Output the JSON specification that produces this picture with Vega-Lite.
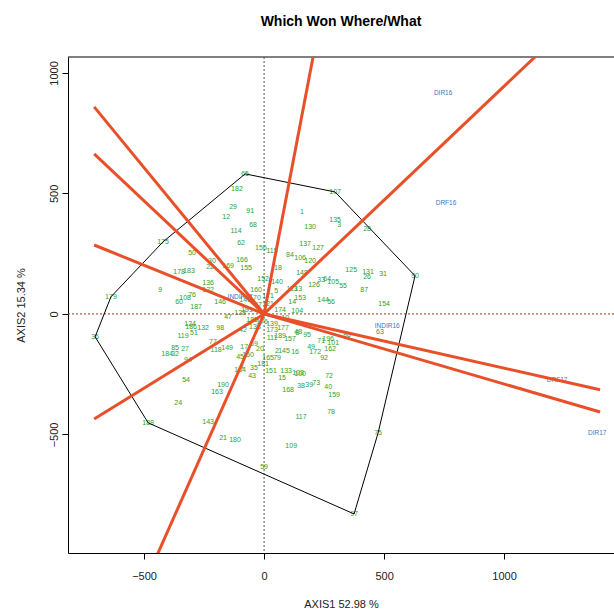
{
  "$schema": "https://vega.github.io/schema/vega-lite/v6.json",
  "width": 546,
  "height": 496,
  "autosize": {"type": "none"},
  "padding": {"left": 68, "top": 57, "right": 0, "bottom": 62},
  "title": {"text": "Which Won Where/What", "font": "Liberation Sans", "fontSize": 14, "fontWeight": "bold", "color": "#000", "anchor": "middle", "offset": 28},
  "config": {
    "view": {"stroke": null},
    "axis": {"labelFont": "Liberation Sans", "titleFont": "Liberation Sans", "labelFontSize": 11, "titleFontSize": 11, "titleFontWeight": "normal", "labelColor": "#222", "titleColor": "#222", "tickColor": "#000", "domainColor": "#000", "tickSize": 6, "grid": false}
  },
  "datasets": {
    "geno": [
      {"g": "65", "x": -79, "y": 581}, {"g": "107", "x": 296, "y": 506}, {"g": "90", "x": 629, "y": 158}, {"g": "75", "x": 475, "y": -494},
      {"g": "97", "x": 375, "y": -830}, {"g": "188", "x": -483, "y": -452}, {"g": "36", "x": -704, "y": -95}, {"g": "179", "x": -638, "y": 71},
      {"g": "175", "x": -421, "y": 299}, {"g": "59", "x": 0, "y": -635},
      {"g": "50", "x": -300, "y": 253}, {"g": "178", "x": -354, "y": 174}, {"g": "183", "x": -313, "y": 178}, {"g": "9", "x": -433, "y": 100},
      {"g": "60", "x": -354, "y": 50}, {"g": "108", "x": -329, "y": 66}, {"g": "76", "x": -300, "y": 79}, {"g": "187", "x": -283, "y": 29},
      {"g": "182", "x": -113, "y": 519}, {"g": "29", "x": -129, "y": 444}, {"g": "91", "x": -58, "y": 427}, {"g": "12", "x": -158, "y": 402},
      {"g": "68", "x": -46, "y": 369}, {"g": "114", "x": -117, "y": 344}, {"g": "62", "x": -96, "y": 295}, {"g": "156", "x": -13, "y": 274},
      {"g": "115", "x": 33, "y": 261}, {"g": "1", "x": 158, "y": 423}, {"g": "30", "x": -217, "y": 220}, {"g": "22", "x": -225, "y": 195},
      {"g": "169", "x": -150, "y": 199}, {"g": "166", "x": -92, "y": 224}, {"g": "155", "x": -75, "y": 191}, {"g": "18", "x": 58, "y": 191},
      {"g": "84", "x": 108, "y": 245}, {"g": "106", "x": 150, "y": 232}, {"g": "136", "x": -233, "y": 129}, {"g": "122", "x": -233, "y": 100},
      {"g": "152", "x": -4, "y": 145}, {"g": "140", "x": 54, "y": 133}, {"g": "5", "x": 50, "y": 95}, {"g": "113", "x": 117, "y": 104},
      {"g": "153", "x": 150, "y": 66}, {"g": "14", "x": 117, "y": 50}, {"g": "146", "x": -183, "y": 50}, {"g": "104", "x": 138, "y": 12},
      {"g": "130", "x": 192, "y": 361}, {"g": "135", "x": 296, "y": 390}, {"g": "3", "x": 313, "y": 369}, {"g": "28", "x": 429, "y": 353},
      {"g": "137", "x": 171, "y": 290}, {"g": "127", "x": 225, "y": 274}, {"g": "120", "x": 192, "y": 220}, {"g": "125", "x": 363, "y": 183},
      {"g": "131", "x": 433, "y": 174}, {"g": "26", "x": 429, "y": 154}, {"g": "31", "x": 496, "y": 166}, {"g": "148", "x": 158, "y": 170},
      {"g": "126", "x": 208, "y": 120}, {"g": "33", "x": 238, "y": 141}, {"g": "64", "x": 263, "y": 145}, {"g": "105", "x": 288, "y": 133},
      {"g": "55", "x": 329, "y": 116}, {"g": "87", "x": 417, "y": 100}, {"g": "144", "x": 246, "y": 58}, {"g": "56", "x": 279, "y": 50},
      {"g": "154", "x": 500, "y": 41}, {"g": "13", "x": 142, "y": 104}, {"g": "124", "x": -308, "y": -41}, {"g": "186", "x": -304, "y": -54},
      {"g": "119", "x": -338, "y": -91}, {"g": "51", "x": -292, "y": -79}, {"g": "85", "x": -371, "y": -141}, {"g": "27", "x": -329, "y": -145},
      {"g": "184", "x": -404, "y": -166}, {"g": "32", "x": -371, "y": -166}, {"g": "94", "x": -317, "y": -191}, {"g": "54", "x": -325, "y": -274},
      {"g": "24", "x": -358, "y": -369}, {"g": "47", "x": -150, "y": -12}, {"g": "132", "x": -254, "y": -58}, {"g": "98", "x": -183, "y": -58},
      {"g": "42", "x": -88, "y": -66}, {"g": "138", "x": -38, "y": -54}, {"g": "139", "x": 33, "y": -41}, {"g": "173", "x": 33, "y": -66},
      {"g": "177", "x": 79, "y": -58}, {"g": "48", "x": 142, "y": -75}, {"g": "111", "x": 33, "y": -100}, {"g": "189", "x": 67, "y": -91},
      {"g": "157", "x": 108, "y": -104}, {"g": "77", "x": -213, "y": -116}, {"g": "118", "x": -200, "y": -149}, {"g": "149", "x": -154, "y": -141},
      {"g": "17", "x": -83, "y": -137}, {"g": "69", "x": -42, "y": -124}, {"g": "20", "x": -17, "y": -145}, {"g": "2", "x": 54, "y": -154},
      {"g": "145", "x": 83, "y": -154}, {"g": "16", "x": 129, "y": -158}, {"g": "45", "x": -100, "y": -178}, {"g": "150", "x": -67, "y": -170},
      {"g": "165", "x": 17, "y": -183}, {"g": "79", "x": 54, "y": -183}, {"g": "181", "x": -4, "y": -207}, {"g": "35", "x": -42, "y": -224},
      {"g": "4", "x": -92, "y": -220}, {"g": "134", "x": -100, "y": -232}, {"g": "151", "x": 29, "y": -237}, {"g": "133", "x": 92, "y": -237},
      {"g": "15", "x": 75, "y": -266}, {"g": "103", "x": 142, "y": -245}, {"g": "43", "x": -50, "y": -257}, {"g": "190", "x": -171, "y": -295},
      {"g": "163", "x": -196, "y": -324}, {"g": "168", "x": 100, "y": -315}, {"g": "38", "x": 154, "y": -299}, {"g": "39", "x": 188, "y": -295},
      {"g": "73", "x": 217, "y": -286}, {"g": "40", "x": 267, "y": -303}, {"g": "159", "x": 292, "y": -336}, {"g": "117", "x": 154, "y": -427},
      {"g": "78", "x": 279, "y": -407}, {"g": "143", "x": -233, "y": -448}, {"g": "21", "x": -171, "y": -514}, {"g": "180", "x": -121, "y": -523},
      {"g": "109", "x": 113, "y": -548}, {"g": "95", "x": 179, "y": -87}, {"g": "8", "x": 138, "y": -79}, {"g": "71", "x": 238, "y": -112},
      {"g": "196", "x": 267, "y": -104}, {"g": "101", "x": 288, "y": -120}, {"g": "49", "x": 196, "y": -137}, {"g": "172", "x": 213, "y": -158},
      {"g": "162", "x": 275, "y": -145}, {"g": "92", "x": 250, "y": -183}, {"g": "100", "x": 150, "y": -249}, {"g": "72", "x": 271, "y": -257},
      {"g": "63", "x": 483, "y": -75}, {"g": "86", "x": 346, "y": -87},
      {"g": "170", "x": -38, "y": 66}, {"g": "67", "x": -25, "y": 37}, {"g": "191", "x": -71, "y": 17}, {"g": "121", "x": 17, "y": 41},
      {"g": "185", "x": -50, "y": -25}, {"g": "176", "x": -8, "y": -33}, {"g": "160", "x": -33, "y": 100}, {"g": "171", "x": 17, "y": 75},
      {"g": "141", "x": -79, "y": 58}, {"g": "128", "x": -100, "y": 4}, {"g": "174", "x": 67, "y": 17}, {"g": "10", "x": 88, "y": -17}
    ],
    "env": [
      {"e": "DIR16", "x": 746, "y": 917}, {"e": "DRF16", "x": 758, "y": 461}, {"e": "INDIR16", "x": 513, "y": -50},
      {"e": "DRF17", "x": 1221, "y": -274}, {"e": "DIR17", "x": 1388, "y": -494}, {"e": "INDIR17", "x": -100, "y": 71}
    ],
    "hull": [
      {"o": 1, "x": -79, "y": 581}, {"o": 2, "x": 296, "y": 506}, {"o": 3, "x": 629, "y": 158}, {"o": 4, "x": 475, "y": -494},
      {"o": 5, "x": 375, "y": -830}, {"o": 6, "x": -483, "y": -452}, {"o": 7, "x": -704, "y": -95}, {"o": 8, "x": -638, "y": 71},
      {"o": 9, "x": -421, "y": 299}, {"o": 10, "x": -79, "y": 581}
    ],
    "rays": [
      {"r": 1, "x0": 0, "y0": 0, "x1": 245, "y1": 1280}, {"r": 2, "x0": 0, "y0": 0, "x1": 1355, "y1": 1280},
      {"r": 3, "x0": 0, "y0": 0, "x1": 1400, "y1": -315}, {"r": 4, "x0": 0, "y0": 0, "x1": 1400, "y1": -407},
      {"r": 5, "x0": 0, "y0": 0, "x1": -530, "y1": -1190}, {"r": 6, "x0": 0, "y0": 0, "x1": -708, "y1": -436},
      {"r": 7, "x0": 0, "y0": 0, "x1": -708, "y1": 286}, {"r": 8, "x0": 0, "y0": 0, "x1": -708, "y1": 664},
      {"r": 9, "x0": 0, "y0": 0, "x1": -708, "y1": 859}
    ],
    "frame": [{"top": 1066}],
    "zero": [{"v": 0}]
  },
  "layer": [
    {
      "data": {"name": "geno"},
      "mark": {"type": "text", "font": "Liberation Sans", "fontSize": 7, "color": "#2ca02c"},
      "encoding": {
        "x": {"field": "x", "type": "quantitative", "scale": {"domain": [-817, 1458], "nice": false, "zero": false},
          "axis": {"values": [-500, 0, 500, 1000], "format": "d", "title": "AXIS1 52.98 %", "labelPadding": 11, "titlePadding": 17}},
        "y": {"field": "y", "type": "quantitative", "scale": {"domain": [-992, 1066], "nice": false, "zero": false},
          "axis": {"values": [-500, 0, 500, 1000], "format": "d", "title": "AXIS2 15.34 %", "labelAngle": -90, "labelAlign": "center", "labelBaseline": "bottom", "labelPadding": 3, "titlePadding": 22}},
        "text": {"field": "g"}
      }
    },
    {
      "data": {"name": "frame"},
      "mark": {"type": "rule", "color": "#000", "strokeWidth": 1},
      "encoding": {"y": {"field": "top", "type": "quantitative"}}
    },
    {
      "data": {"name": "zero"},
      "mark": {"type": "rule", "color": "#9a3a20", "strokeWidth": 1, "strokeDash": [2, 2]},
      "encoding": {"y": {"field": "v", "type": "quantitative"}}
    },
    {
      "data": {"name": "zero"},
      "mark": {"type": "rule", "color": "#555", "strokeWidth": 1, "strokeDash": [2, 2]},
      "encoding": {"x": {"field": "v", "type": "quantitative"}}
    },
    {
      "data": {"name": "env"},
      "mark": {"type": "text", "font": "Liberation Sans", "fontSize": 6.5, "color": "#3b78c0"},
      "encoding": {
        "x": {"field": "x", "type": "quantitative"},
        "y": {"field": "y", "type": "quantitative"},
        "text": {"field": "e"}
      }
    },
    {
      "data": {"name": "hull"},
      "mark": {"type": "line", "color": "#000", "strokeWidth": 1},
      "encoding": {
        "x": {"field": "x", "type": "quantitative"},
        "y": {"field": "y", "type": "quantitative"},
        "order": {"field": "o"}
      }
    },
    {
      "data": {"name": "rays"},
      "mark": {"type": "rule", "color": "#e8502a", "strokeWidth": 3, "clip": true},
      "encoding": {
        "x": {"field": "x0", "type": "quantitative"},
        "y": {"field": "y0", "type": "quantitative"},
        "x2": {"field": "x1"},
        "y2": {"field": "y1"},
        "detail": {"field": "r"}
      }
    }
  ]
}
